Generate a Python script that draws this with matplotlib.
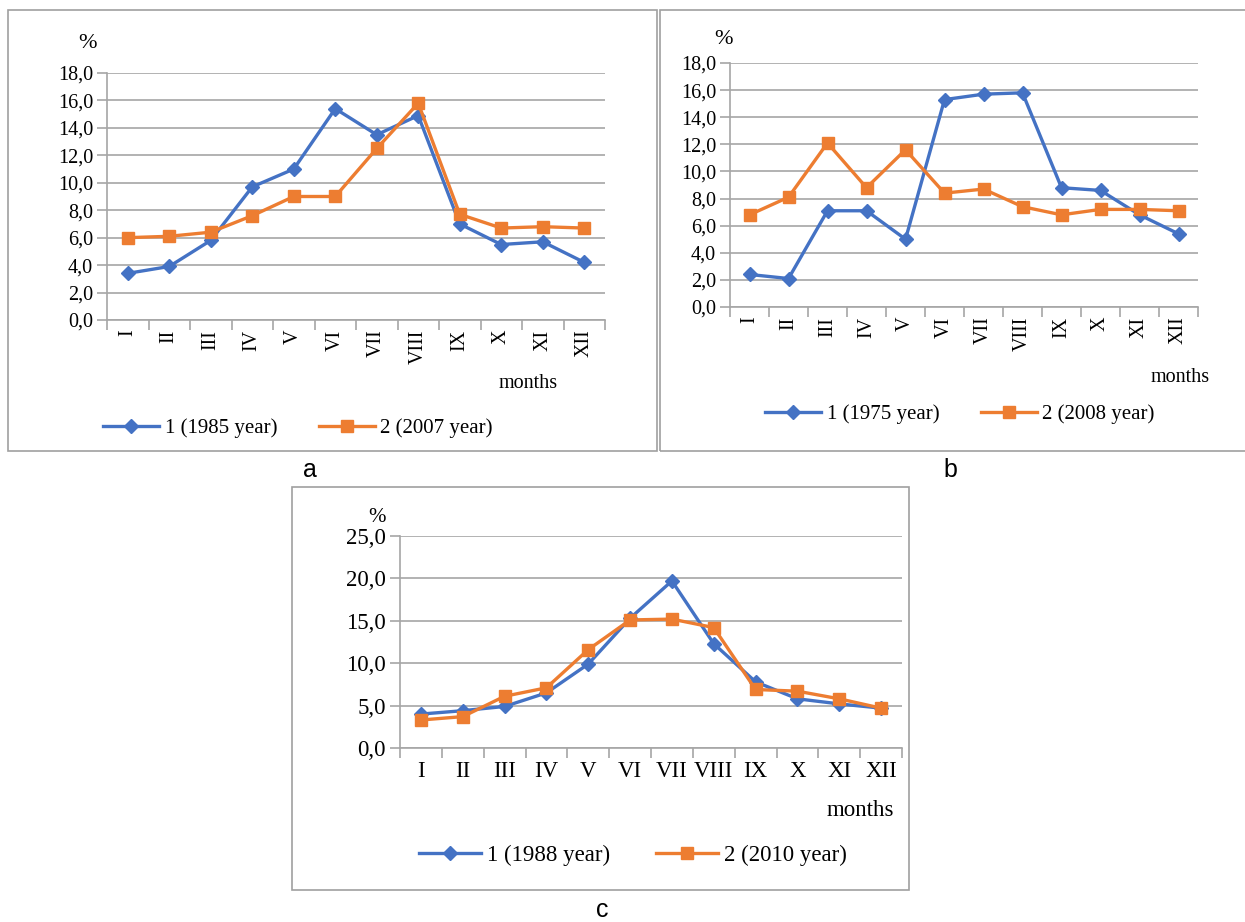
import matplotlib
matplotlib.use("Agg")
import matplotlib.pyplot as plt
from matplotlib.patches import Rectangle
from matplotlib.ticker import FuncFormatter, MultipleLocator

# months on the x axis
months = ["I", "II", "III", "IV", "V", "VI", "VII", "VIII", "IX", "X", "XI", "XII"]

# panel a
a_1985 = [3.4, 3.9, 5.8, 9.7, 11.0, 15.4, 13.5, 14.9, 7.0, 5.5, 5.7, 4.2]
a_2007 = [6.0, 6.1, 6.4, 7.6, 9.0, 9.0, 12.5, 15.8, 7.7, 6.7, 6.8, 6.7]

# panel b
b_1975 = [2.4, 2.1, 7.1, 7.1, 5.0, 15.3, 15.7, 15.8, 8.8, 8.6, 6.8, 5.4]
b_2008 = [6.8, 8.1, 12.1, 8.8, 11.6, 8.4, 8.7, 7.4, 6.8, 7.2, 7.2, 7.1]

# panel c
c_1988 = [4.0, 4.4, 4.9, 6.5, 9.9, 15.3, 19.7, 12.3, 7.8, 5.8, 5.2, 4.7]
c_2010 = [3.3, 3.7, 6.1, 7.1, 11.6, 15.1, 15.2, 14.2, 6.9, 6.7, 5.8, 4.7]

W, H = 1245, 922
BLUE = "#4472C4"
ORANGE = "#ED7D31"
GRID = "#A6A6A6"
SERIF = "Liberation Serif"

fig = plt.figure(figsize=(W / 100, H / 100), dpi=100)


def px_axes(x0, y0, x1, y1):
    # pixel box (top-left origin) -> figure axes
    return fig.add_axes([x0 / W, 1 - y1 / H, (x1 - x0) / W, (y1 - y0) / H])


def px_box(x0, y0, x1, y1):
    fig.patches.append(Rectangle((x0 / W, 1 - y1 / H), (x1 - x0) / W, (y1 - y0) / H,
                                 transform=fig.transFigure, fill=False,
                                 edgecolor="#A0A0A0", linewidth=1.2))


def draw(ax, s1, s2, ymax, step, rotate, fs, yfs):
    x = range(len(months))
    l1, = ax.plot(x, s1, color=BLUE, lw=2.4, marker="D", ms=7, zorder=3)
    l2, = ax.plot(x, s2, color=ORANGE, lw=2.4, marker="s", ms=9, zorder=3)
    ax.set_xlim(-0.5, len(months) - 0.5)
    ax.set_ylim(0, ymax)
    ax.yaxis.set_major_locator(MultipleLocator(step))
    ax.yaxis.set_major_formatter(FuncFormatter(lambda v, p: f"{v:.1f}".replace(".", ",")))
    ax.grid(axis="y", color=GRID, lw=1.2)
    ax.set_axisbelow(True)
    for s in ["top", "right"]:
        ax.spines[s].set_visible(False)
    for s in ["left", "bottom"]:
        ax.spines[s].set_color(GRID)
        ax.spines[s].set_linewidth(1.2)
    ax.set_xticks([i - 0.5 for i in range(len(months) + 1)])
    ax.set_xticklabels([])
    ax.set_xticks(list(x), minor=True)
    ax.set_xticklabels(months, minor=True, rotation=90 if rotate else 0,
                       family=SERIF, fontsize=fs, va="top", ha="center")
    ax.tick_params(axis="x", which="major", length=7, color=GRID, width=1.2, direction="out")
    ax.tick_params(axis="x", which="minor", length=0, pad=9 if not rotate else 7)
    ax.tick_params(axis="y", length=7, color=GRID, width=1.2, labelsize=yfs, pad=3)
    for t in ax.get_yticklabels():
        t.set_family(SERIF)
    return l1, l2


def legend(l1, l2, labels, cx, cy, fs):
    fig.legend([l1, l2], labels, loc="center", bbox_to_anchor=(cx / W, 1 - cy / H),
               ncol=2, frameon=False, prop={"family": SERIF, "size": fs},
               handlelength=2.7, handletextpad=0.25, columnspacing=2.0)


# a
px_box(8, 10, 657, 451)
ax = px_axes(107, 73, 605, 320)
l1, l2 = draw(ax, a_1985, a_2007, 18, 2, True, 14.5, 14.5)
fig.text(88 / W, 1 - 44 / H, "%", family=SERIF, fontsize=16, ha="center", va="center")
fig.text(528 / W, 1 - 383 / H, "months", family=SERIF, fontsize=14.5, ha="center", va="center")
legend(l1, l2, ["1 (1985 year)", "2 (2007 year)"], 298, 428, 15)
fig.text(310 / W, 1 - 470 / H, "a", fontsize=18, family="Liberation Sans", ha="center", va="center")

# b
px_box(660, 10, 1250, 451)
ax = px_axes(730, 63, 1198, 307)
l1, l2 = draw(ax, b_1975, b_2008, 18, 2, True, 14.5, 14.5)
fig.text(723 / W, 1 - 39 / H, "%", family=SERIF, fontsize=16, ha="center", va="center")
fig.text(1180 / W, 1 - 377 / H, "months", family=SERIF, fontsize=14.5, ha="center", va="center")
legend(l1, l2, ["1 (1975 year)", "2 (2008 year)"], 960, 414, 15)
fig.text(950 / W, 1 - 470 / H, "b", fontsize=18, family="Liberation Sans", ha="center", va="center")

# c
px_box(292, 487, 909, 890)
ax = px_axes(400, 536, 902, 748)
l1, l2 = draw(ax, c_1988, c_2010, 25, 5, False, 16.5, 16.5)
fig.text(377 / W, 1 - 518 / H, "%", family=SERIF, fontsize=15, ha="center", va="center")
fig.text(860 / W, 1 - 810 / H, "months", family=SERIF, fontsize=16.5, ha="center", va="center")
legend(l1, l2, ["1 (1988 year)", "2 (2010 year)"], 633, 855, 16.5)
fig.text(602 / W, 1 - 910 / H, "c", fontsize=18, family="Liberation Sans", ha="center", va="center")

fig.savefig("out.png", dpi=100, facecolor="white")
